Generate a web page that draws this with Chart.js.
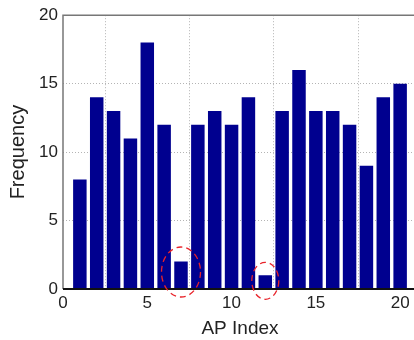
<!DOCTYPE html>
<html>
<head>
<meta charset="utf-8">
<script src="https://cdn.jsdelivr.net/npm/chart.js@4/dist/chart.umd.min.js"></script>
<style>
html,body{margin:0;padding:0;background:#fff;overflow:hidden;}
#wrap{width:420px;height:340px;}
</style>
</head>
<body>
<div id="wrap"><canvas id="c" width="420" height="340"></canvas></div>
<script>
const apIndex = [1,2,3,4,5,6,7,8,9,10,11,12,13,14,15,16,17,18,19,20];
const frequency = [8,14,13,11,18,12,2,12,13,12,14,1,13,16,13,13,12,9,14,15];
const xTicks = [0,5,10,15,20];
const yTicks = [0,5,10,15,20];
const highlighted = [7,12];

const font = {family:'"Liberation Sans", Arial, sans-serif', size:17};

const boxPlugin = {
  id:'box',
  afterDraw(chart){
    const {ctx, chartArea:a, scales} = chart;
    ctx.save();
    ctx.strokeStyle = '#777';
    ctx.lineWidth = 1.5;
    ctx.beginPath();
    ctx.moveTo(a.left, a.bottom); ctx.lineTo(a.left, a.top); ctx.lineTo(a.right, a.top); ctx.lineTo(a.right, a.bottom);
    ctx.stroke();
    ctx.strokeStyle = '#111';
    ctx.lineWidth = 2;
    ctx.beginPath(); ctx.moveTo(a.left, a.bottom); ctx.lineTo(a.right, a.bottom); ctx.stroke();
    // dashed red ellipses around the low bars
    ctx.strokeStyle = '#e8232a';
    ctx.lineWidth = 1.3;
    ctx.setLineDash([6,4]);
    const specs = [{rx:19.5, ry:25, dy:1.24}, {rx:13.5, ry:18.5, dy:0.6}];
    highlighted.forEach((xv,i)=>{
      const cx = scales.x.getPixelForValue(xv);
      const cy = scales.y.getPixelForValue(specs[i].dy);
      ctx.beginPath();
      ctx.ellipse(cx, cy, specs[i].rx, specs[i].ry, 0, 0, Math.PI*2);
      ctx.stroke();
    });
    ctx.restore();
  }
};

new Chart(document.getElementById('c'), {
  type:'bar',
  data:{
    datasets:[{
      data: apIndex.map((x,i)=>({x:x, y:frequency[i]})),
      backgroundColor:'#00008f',
      borderColor:'#00008f',
      borderWidth:0,
      barPercentage:0.8,
      categoryPercentage:1.0
    }]
  },
  options:{
    responsive:false,
    animation:false,
    devicePixelRatio:1,
    layout:{padding:{top:14,right:3,left:0,bottom:0}},
    plugins:{legend:{display:false}, tooltip:{enabled:false}},
    scales:{
      x:{
        type:'linear', min:0, max:21, offset:false,
        afterBuildTicks(s){ s.ticks = xTicks.map(v=>({value:v})); },
        afterFit(s){ s.height = 51; },
        grid:{color:'#b4b4b4', drawTicks:false, lineWidth:1},
        border:{display:false, dash:[1,2]},
        ticks:{color:'#222', font:font, padding:4, maxRotation:0, autoSkip:false},
        title:{display:true, text:'AP Index', color:'#222', font:{family:font.family, size:19}, padding:{top:1,bottom:0}}
      },
      y:{
        min:0, max:20,
        afterBuildTicks(s){ s.ticks = yTicks.map(v=>({value:v})); },
        afterFit(s){ s.width = 63; },
        grid:{color:'#b4b4b4', drawTicks:false, lineWidth:1},
        border:{display:false, dash:[1,2]},
        ticks:{color:'#222', font:font, padding:5},
        title:{display:true, text:'Frequency', color:'#222', font:{family:font.family, size:20}, padding:{top:6,bottom:0}}
      }
    }
  },
  plugins:[boxPlugin]
});
</script>
</body>
</html>
